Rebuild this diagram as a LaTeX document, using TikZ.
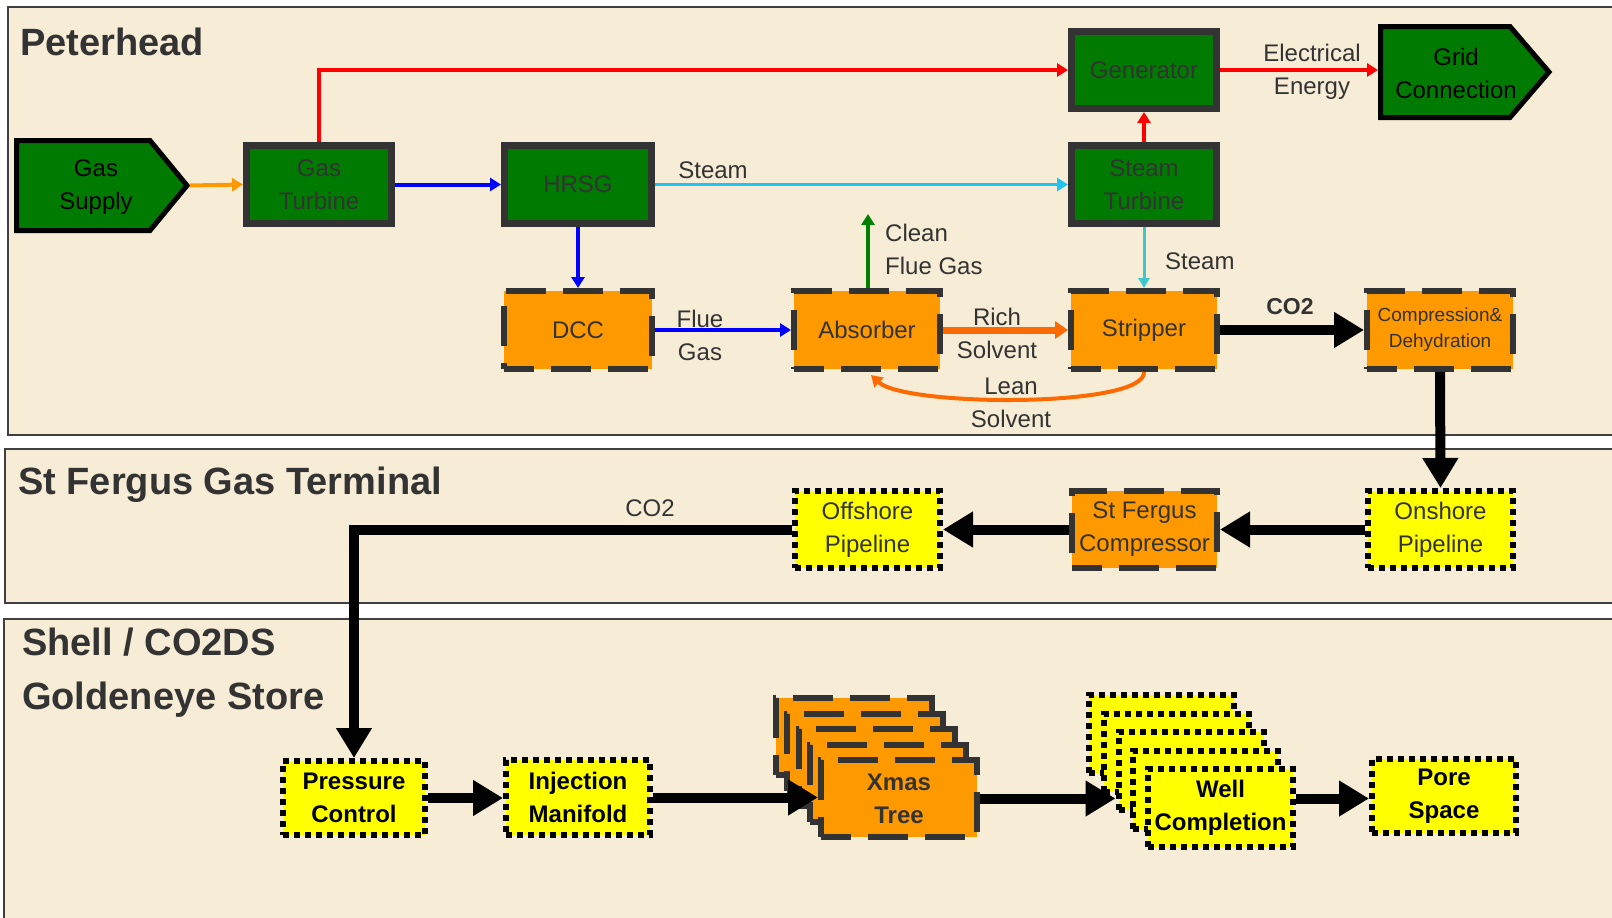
\documentclass[tikz,border=0pt]{standalone}
\usepackage{fontspec}
\setmainfont{Liberation Sans}
\usetikzlibrary{arrows.meta}
\definecolor{bg}{HTML}{F7ECD6}
\definecolor{gr}{HTML}{007A00}
\definecolor{orng}{HTML}{FF9900}
\definecolor{yel}{HTML}{FFFF00}
\definecolor{dk}{HTML}{333333}
\definecolor{pnl}{HTML}{404040}
\definecolor{steam}{HTML}{1EC3F0}
\definecolor{turq}{HTML}{3CC8CC}
\definecolor{rich}{HTML}{FF6A00}
\definecolor{cfg}{HTML}{008000}
\definecolor{blu}{HTML}{0000FF}
\definecolor{rd}{HTML}{FF0000}
\begin{document}
\begin{tikzpicture}[x=1pt,y=-1pt,
  panel/.style={fill=bg, draw=pnl, line width=2pt},
  title/.style={anchor=base west, inner sep=0, text=dk, font=\fontsize{38}{46}\selectfont\bfseries},
  txt/.style={font=\fontsize{24}{33}\selectfont, align=center, inner sep=0},
  gbox/.style={draw=dk, line width=7pt, fill=gr, minimum width=145pt, minimum height=78pt, inner sep=0, text=dk, font=\fontsize{24}{33}\selectfont, align=center},
  obox/.style={draw=dk, line width=6pt, dash pattern=on 40pt off 17pt, dash phase=10pt, fill=orng, minimum width=146pt, minimum height=78pt, inner sep=0, text=dk, font=\fontsize{24}{33}\selectfont, align=center},
  ybox/.style={draw=black, line width=6pt, dash pattern=on 6pt off 5pt, fill=yel, minimum width=144pt, minimum height=75pt, inner sep=0, text=black, font=\fontsize{24}{33}\selectfont\bfseries, align=center},
  elbl/.style={font=\fontsize{24}{33}\selectfont, text=dk, align=center, inner sep=0},
  thin/.style={-{Triangle[length=11pt,width=13pt]}, line width=4pt},
  big/.style={-{Triangle[length=30pt,width=34pt]}, line width=10pt, draw=black},
]
\useasboundingbox (0,0) rectangle (1612,918);
\fill[white] (0,0) rectangle (1612,918);
% panels
\draw[panel] (8,7) rectangle (1650,435);
\draw[panel] (5,449) rectangle (1650,603);
\draw[panel] (4,619) rectangle (1650,950);
\node[title] (tpeter) at (20,55) {Peterhead};
\node[title] (tferg) at (18,494) {St Fergus Gas Terminal};
\node[title] (tshell) at (22,655) {Shell / CO2DS};
\node[title] (tgold) at (22,709) {Goldeneye Store};

% pentagon sources/sinks
\draw[line width=5pt, line join=miter, fill=gr] (16.5,140.5) -- (150,140.5) -- (187,185.5) -- (150,230.5) -- (16.5,230.5) -- cycle;
\coordinate (gstip) at (190,185.5);
\node[txt] (gs) at (96,187) {Gas\\Supply};
\draw[line width=5pt, line join=miter, fill=gr] (1380.5,26.5) -- (1510,26.5) -- (1549,72) -- (1510,117.5) -- (1380.5,117.5) -- cycle;
\coordinate (gridw) at (1378,70);
\node[txt] (gc) at (1456,73) {Grid\\Connection};

% green boxes
\node[gbox] (gt) at (319,184.5) {Gas\\Turbine};
\node[gbox, minimum width=147pt] (hrsg) at (578,184.5) {HRSG};
\node[gbox, minimum height=77pt] (gen) at (1144,70) {Generator};
\node[gbox] (st) at (1144,184.5) {Steam\\Turbine};

% orange boxes
\node[obox, minimum width=148pt] (dcc) at (578,330) {DCC};
\node[obox] (abs) at (867,330) {Absorber};
\node[obox] (strp) at (1144,330) {Stripper};
\node[obox, font=\fontsize{19}{26}\selectfont] (comp) at (1440,330) {Compression\&\\Dehydration};
\node[obox, minimum width=145pt, minimum height=77pt] (sfc) at (1144.5,529.5) {St Fergus\\Compressor};

% yellow boxes
\node[ybox, minimum width=145pt, minimum height=77pt, font=\fontsize{24}{33}\selectfont, text=dk] (on) at (1440.5,529.5) {Onshore\\Pipeline};
\node[ybox, minimum width=145pt, minimum height=77pt, font=\fontsize{24}{33}\selectfont, text=dk] (off) at (867.5,529.5) {Offshore\\Pipeline};
\node[ybox, minimum width=142pt, minimum height=74pt] (pc) at (354,798) {Pressure\\Control};
\node[ybox] (im) at (578,797.5) {Injection\\Manifold};
\node[ybox, minimum height=74pt] (ps) at (1444,796) {Pore\\Space};

% Xmas tree stack
\foreach \k in {4,3,2,1} {
  \node[obox, minimum width=156pt, minimum height=77pt] (xt\k) at ({899-11.25*\k},{798.5-15.5*\k}) {};
}
\node[obox, minimum width=156pt, minimum height=77pt, font=\fontsize{24}{33}\selectfont\bfseries] (xt) at (899,798.5) {Xmas\\Tree};

% Well completion stack
\foreach \k in {4,3,2,1} {
  \node[ybox, minimum width=145pt, minimum height=78pt] (wc\k) at ({1220.5-14.75*\k},{808-18.5*\k}) {};
}
\node[ybox, minimum width=145pt, minimum height=78pt] (wc) at (1220.5,808) {Well\\Completion};

% Peterhead connectors
\draw[thin, draw=orng] (gstip) -- (gt.west);
\draw[thin, draw=blu] (gt.east) -- (hrsg.west);
\draw[thin, draw=rd, line width=3.5pt] (gt.north) |- (gen.west);
\draw[thin, draw=steam, line width=3.5pt] (hrsg.east) -- (st.west);
\node[elbl] (lsteam) at (713,170) {Steam};
\draw[thin, draw=blu] (hrsg.south) -- (dcc.north);
\draw[thin, draw=blu, line width=3.5pt] (dcc.east) -- (abs.west);
\node[elbl] (lflue) at (700,335) {Flue\\Gas};
\coordinate (cfgend) at (868,214);
\draw[thin, draw=cfg, line width=4.5pt] (abs.north -| cfgend) -- (cfgend);
\node[elbl, align=left, anchor=west] (lclean) at (885,249) {Clean\\Flue Gas};
\draw[draw=rich, line width=7pt, -{Triangle[length=13pt,width=17pt]}] (abs.east) -- (strp.west);
\node[elbl] (lrich) at (997,333) {Rich\\Solvent};
\coordinate (absb) at (871,375);
\draw[draw=rich, line width=4pt, -{Triangle[length=11pt,width=13pt]}] (strp.south) .. controls (1146,408) and (905,407) .. (absb);
\node[elbl] (llean) at (1011,403) {Lean\\Solvent};
\draw[draw=turq, line width=3pt, -{Triangle[length=10pt,width=11pt]}] (st.south) -- (strp.north);
\node[elbl, anchor=west] (lsteam2) at (1165,261) {Steam};
\draw[thin, draw=rd, line width=3.5pt] (st.north) -- (gen.south);
\draw[thin, draw=rd, line width=3.5pt] (gen.east) -- (gridw);
\node[elbl] (lelec) at (1312,72) {Electrical\\Energy};
\draw[big] (strp.east) -- (comp.west);
\node[inner sep=0, text=dk, font=\fontsize{23}{28}\selectfont\bfseries] (lco2a) at (1290,307) {CO2};
\draw[big] (comp.south) -- (on.north);

% St Fergus connectors
\draw[big] (on.west) -- (sfc.east);
\draw[big] (sfc.west) -- (off.east);
\draw[big] (off.west) -| (pc.north);
\node[inner sep=0, text=dk, font=\fontsize{24}{28}\selectfont] (lco2b) at (650,508) {CO2};

% Shell connectors
\draw[big] (pc.east) -- (im.west |- pc.east);
\draw[big] (im.east) -- (xt.west |- im.east);
\draw[big] (xt.east) -- (wc2.west |- xt.east);
\draw[big] (wc.east |- xt.east) -- (ps.west |- xt.east);
\end{tikzpicture}
\end{document}
